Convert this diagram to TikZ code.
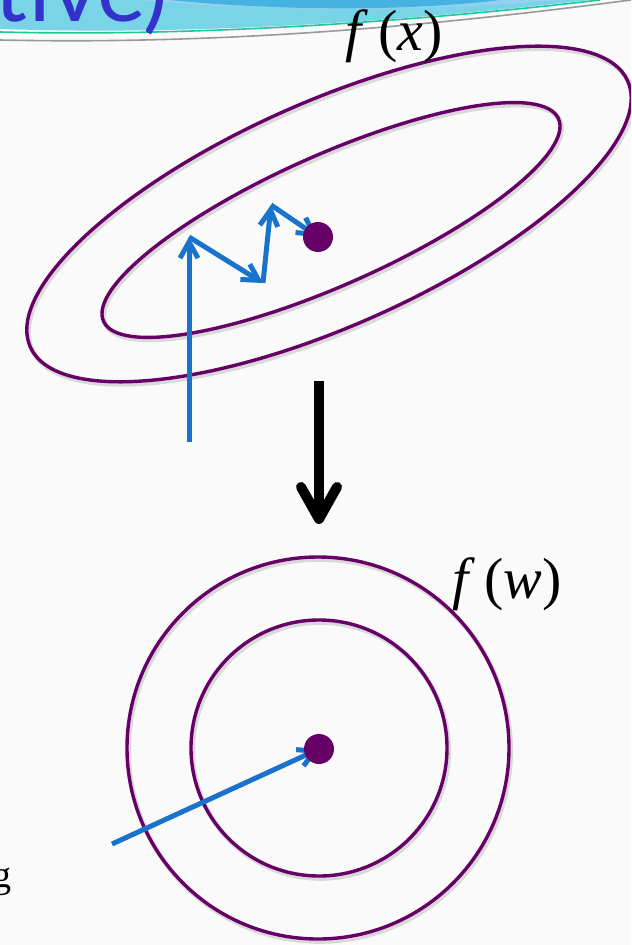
\documentclass[tikz,border=0pt]{standalone}
\usepackage{fontspec}
\setmainfont{Liberation Serif}
\newfontfamily\headfont{Lato}
\usepackage{tikz}
\usetikzlibrary{arrows.meta, positioning, calc}

\definecolor{plum}{RGB}{102,0,102}
\definecolor{stepblue}{RGB}{25,115,205}
\definecolor{headblue}{RGB}{51,51,204}
\definecolor{bandcyan}{RGB}{120,212,230}
\definecolor{bandblue}{RGB}{70,178,225}
\definecolor{bandlight}{RGB}{150,208,240}
\definecolor{bandgreen}{RGB}{30,200,150}
\definecolor{paper}{RGB}{250,250,250}

\begin{document}
\begin{tikzpicture}[
  x=0.5pt, y=-0.5pt,
  contour/.style = {draw=plum, line width=1.7pt,
    preaction={draw=black!15, line width=2.4pt,
      transform canvas={shift={(0.8pt,-1.2pt)}}}},
  stepline/.style = {draw=stepblue, line width=2.5pt,
    -{Straight Barb[length=8pt, width=9pt]}},
  minnode/.style = {circle, fill=plum, minimum size=15pt, inner sep=0pt},
  fnlabel/.style = {font=\fontsize{29}{32}\selectfont, inner sep=0pt},
  bigarrow/.style = {line width=5pt,
    -{Straight Barb[round, length=16pt, width=18pt]}},
]
% Page
\useasboundingbox (0,0) rectangle (631,945);
\clip (0,0) rectangle (631,945);
\fill[paper] (0,0) rectangle (631,945);

% Slide header band
\fill[bandcyan] (0,0) -- (0,29) .. controls (180,35) and (380,24) .. (590,0) -- cycle;
\fill[bandlight] (140,0) .. controls (260,12) and (420,12) .. (560,0) -- cycle;
\fill[bandblue] (170,0) .. controls (300,13) and (430,9) .. (500,0) -- cycle;
\draw[bandgreen, line width=0.8pt] (0,32) .. controls (200,37) and (420,21) .. (600,0);
\draw[black!40, line width=0.8pt] (0,40) .. controls (230,45) and (440,25) .. (631,0);
\node[font=\headfont\fontsize{46}{50}\selectfont, text=headblue,
  anchor=base west, inner sep=0pt] (title) at (-6,22) {tive)};

% Level sets of f(x)
\draw[contour, rotate around={24:(329,214)}] (329,214) ellipse [x radius=327, y radius=112];
\draw[contour, rotate around={24:(331,220)}] (331,220) ellipse [x radius=249, y radius=65];
\node[fnlabel] (fx) at (394,36) {\textit{f}\,(\textit{x})};

% Zig-zag descent
\coordinate (start) at (189,442);
\coordinate (turn1) at (189,237);
\coordinate (turn2) at (263,283);
\coordinate (turn3) at (271,205);
\coordinate (opt1) at (318,237);
\draw[stepline] (start) -- (turn1);
\draw[stepline] (turn1) -- (turn2);
\draw[stepline] (turn2) -- (turn3);
\draw[stepline] (turn3) -- (opt1);
\node[minnode] (dot1) at (opt1) {};

% Change of variables
\coordinate (ktop) at (319,381);
\coordinate (kbot) at (319,524);
\draw[bigarrow] (ktop) -- (kbot);

% Level sets of f(w)
\draw[contour] (318,748) circle [radius=191];
\draw[contour] (319,748) circle [radius=128];
\node[fnlabel] (fw) at (507,584) {\textit{f}\,(\textit{w})};

% One step to the minimum
\coordinate (wstart) at (112,844);
\coordinate (opt2) at (319,749);
\draw[stepline] (wstart) -- (opt2);
\node[minnode] (dot2) at (opt2) {};

\node[font=\fontsize{19}{21}\selectfont, anchor=base east, inner sep=0pt] (tail) at (12,887) {g};
\end{tikzpicture}
\end{document}
